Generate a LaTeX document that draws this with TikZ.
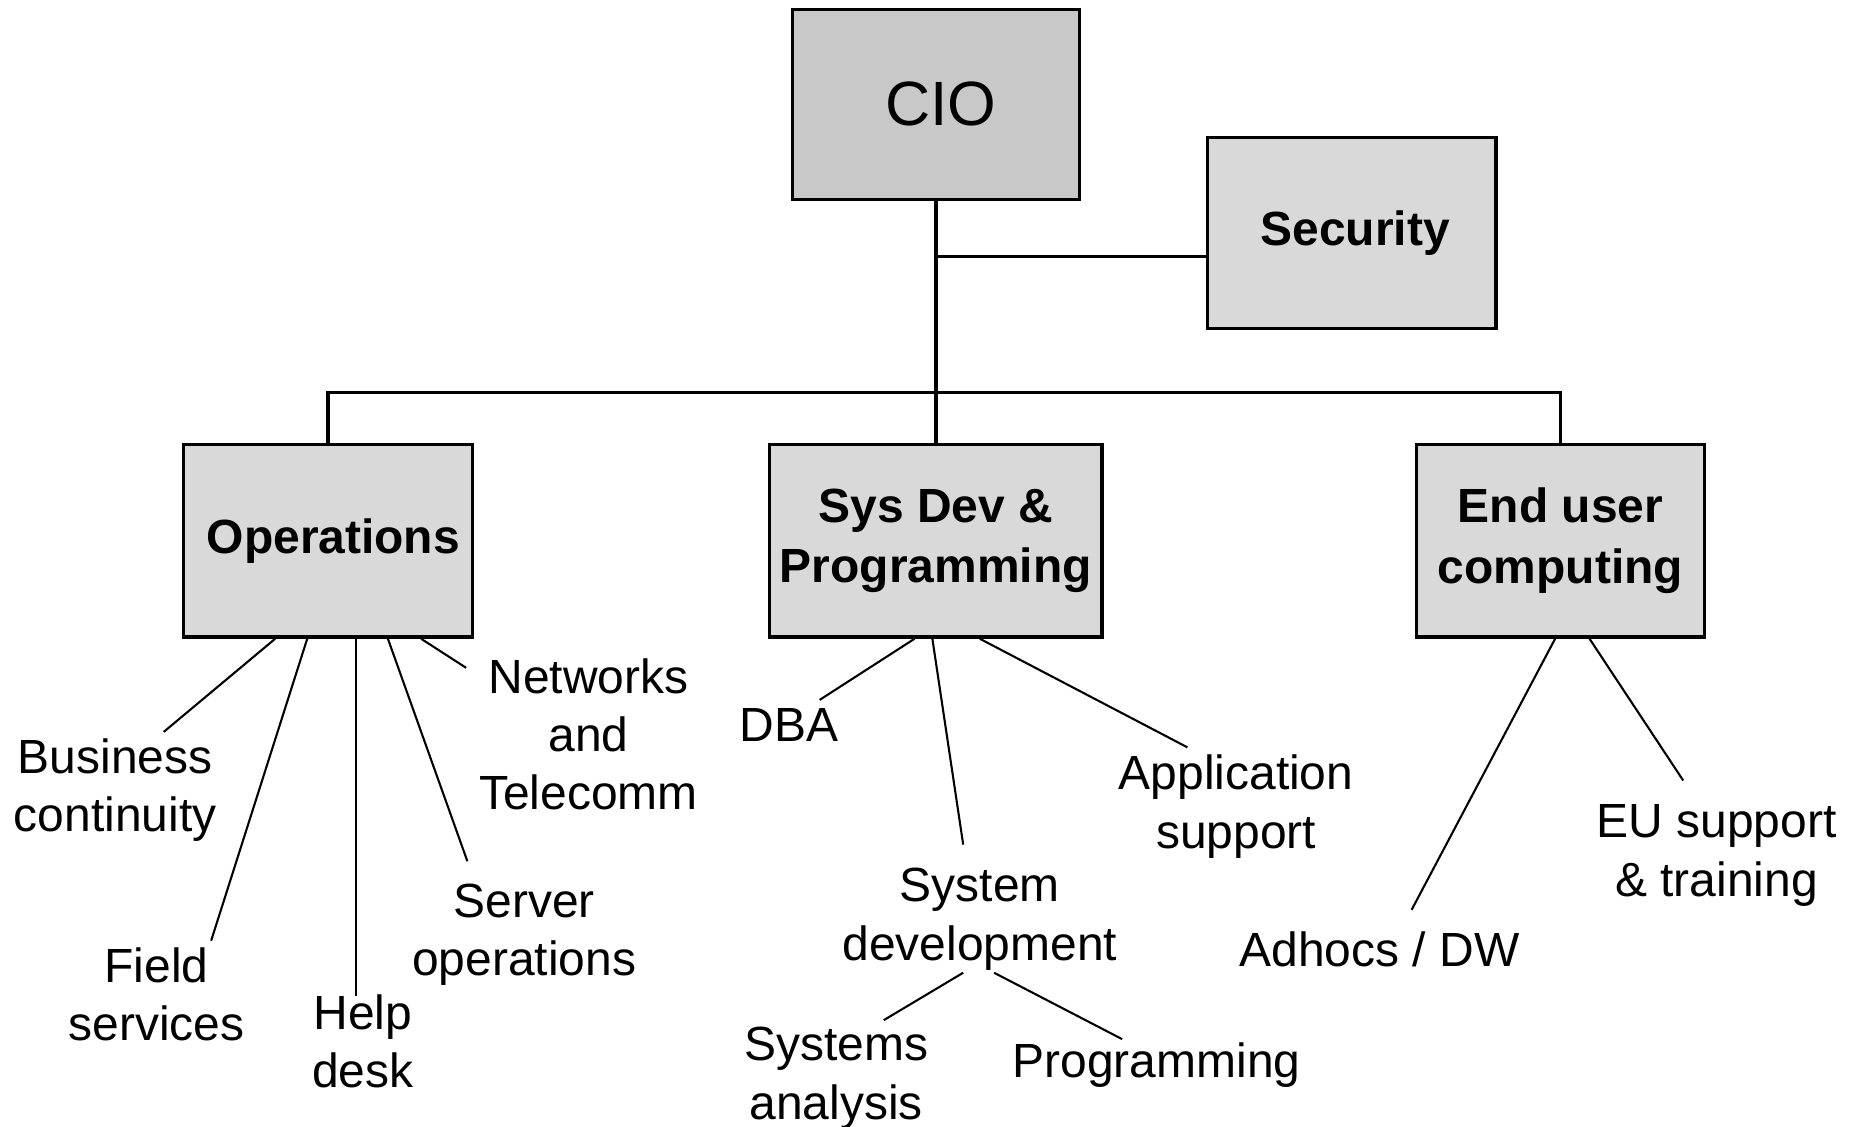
\documentclass[tikz,border=0pt]{standalone}
\usepackage{fontspec}
\setmainfont{Liberation Sans}
\usetikzlibrary{calc}
\definecolor{ciogray}{gray}{0.784}
\definecolor{boxgray}{gray}{0.851}
\tikzset{
  unit/.style={draw=black, line width=0.8pt, fill=boxgray, minimum width=2.43cm, minimum height=1.62cm,
    align=center, inner sep=0pt, font=\fontsize{11.5}{14.5}\selectfont\bfseries},
  duty/.style={align=center, inner sep=0pt, font=\fontsize{11.5}{14}\selectfont},
  trunk/.style={line width=0.8pt},
  link/.style={line width=0.5pt}
}
\begin{document}
\begin{tikzpicture}
[x=0.01cm,y=-0.01cm]
\useasboundingbox (0,0) rectangle (1568,950);
% head and staff
\node[unit, fill=ciogray, minimum width=2.42cm, minimum height=1.60cm, font=\fontsize{15}{18}\selectfont] (cio) at (789,88) {\hspace*{0.08cm}CIO};
\node[unit, minimum height=1.61cm] (sec) at (1139.5,196.5) {\hspace*{0.06cm}Security};
% departments
\node[unit] (ops) at (276.5,456) {\hspace*{0.09cm}Operations};
\node[unit, minimum width=2.80cm] (sysdev) at (789,456) {Sys Dev \&\\Programming};
\node[unit] (euc) at (1315.5,456) {End user\\computing};
% reporting lines
\coordinate (bar) at (789,331);
\draw[trunk] (cio.south) -- (sysdev.north);
\draw[trunk] ($(sec.west)+(0,19.5)$) coordinate (secin) -- (secin -| cio.south);
\draw[trunk] (ops.north) |- (bar) -| (euc.north);
% operations
\node[duty] (bc) at (97,666) {Business\\continuity};
\node[duty] (fs) at (132,838) {Field\\services};
\node[duty] (hd) at (306,878) {Help\\desk};
\node[duty] (so) at (442,788) {Server\\operations};
\node[duty] (nt) at (496,619) {Networks\\and\\Telecomm};
\draw[link] ($(ops.south)+(-44.5,0)$) -- ($(bc)+(41,-49)$);
\draw[link] ($(ops.south)+(-17.5,0)$) -- ($(fs)+(46,-45)$);
\draw[link] ($(ops.south)+(23.5,0)$) -- ($(hd)+(-6,-38)$);
\draw[link] ($(ops.south)+(50.5,0)$) -- ($(so)+(-48,-62)$);
\draw[link] ($(ops.south)+(78.5,0)$) -- ($(nt)+(-103,-56)$);
% sys dev
\node[duty] (dba) at (665,611) {DBA};
\node[duty] (sd) at (826,775) {System\\development};
\node[duty] (as) at (1042,680) {Application\\support};
\node[duty] (sa) at (705,909) {Systems\\analysis};
\node[duty] (pg) at (975,898) {Programming};
\draw[link] ($(sysdev.south)+(-18,0)$) -- ($(dba)+(26,-21)$);
\draw[link] ($(sysdev.south)+(-3,0)$) -- ($(sd)+(-14,-63)$);
\draw[link] ($(sysdev.south)+(37,0)$) -- ($(as)+(-41,-50)$);
\draw[link] ($(sd)+(-14,45)$) -- ($(sa)+(40,-49)$);
\draw[link] ($(sd)+(12,45)$) -- ($(pg)+(-29,-22)$);
% end user
\node[duty] (ad) at (1163,800) {Adhocs / DW};
\node[duty] (eu) at (1447,721) {EU support\\\& training};
\draw[link] ($(euc.south)+(-4.5,0)$) -- ($(ad)+(27,-33)$);
\draw[link] ($(euc.south)+(24.5,0)$) -- ($(eu)+(-28,-63)$);
\end{tikzpicture}
\end{document}
